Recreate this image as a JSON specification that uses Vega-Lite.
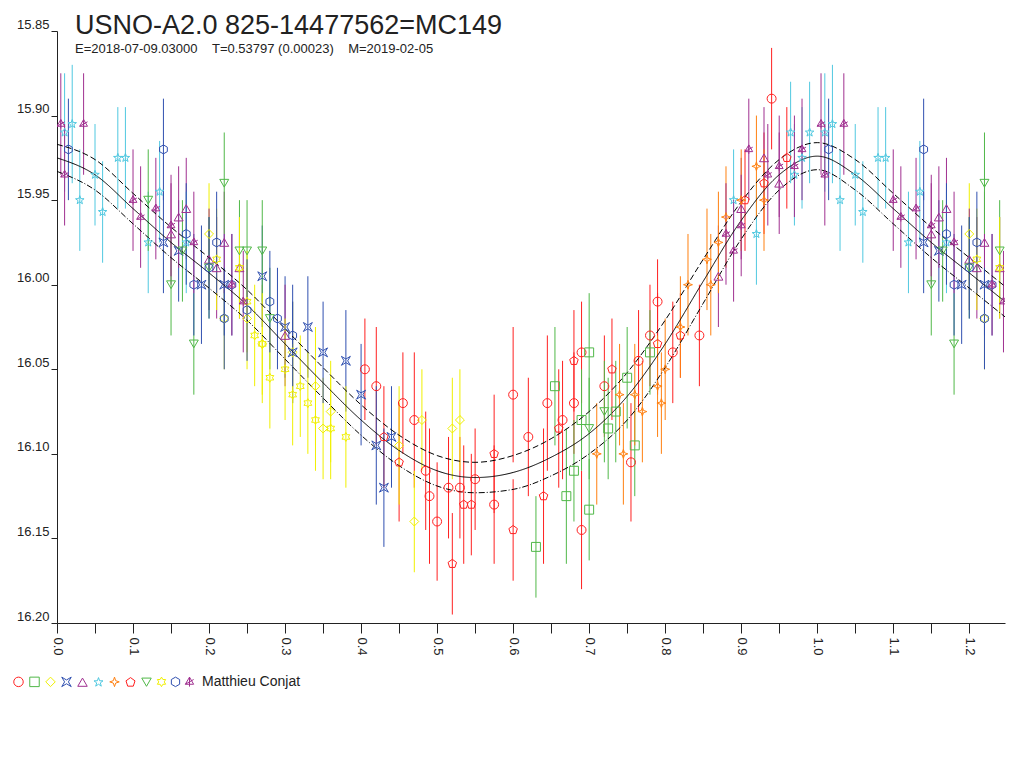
{
  "$schema": "https://vega.github.io/schema/vega-lite/v6.json",
  "autosize": "none",
  "width": 948,
  "height": 592,
  "padding": {"left": 57, "top": 31, "right": 19, "bottom": 145},
  "background": "white",
  "config": {"view": {"stroke": null}, "font": "Liberation Sans"},
  "title": {
    "text": "USNO-A2.0 825-14477562=MC149",
    "subtitle": "E=2018-07-09.03000\u00a0\u00a0\u00a0\u00a0T=0.53797 (0.00023)\u00a0\u00a0\u00a0\u00a0M=2019-02-05",
    "anchor": "start", "frame": "group", "dx": 18, "offset": -39,
    "fontSize": 27, "fontWeight": "normal", "color": "#222",
    "subtitleFontSize": 13, "subtitleColor": "#222", "subtitlePadding": 3
  },
  "datasets": {
    "pts": [
      {"s":"a","p":0.405,"m":16.05,"e":0.03},{"s":"a","p":0.42,"m":16.06,"e":0.035},{"s":"a","p":0.455,"m":16.07,"e":0.03},{"s":"a","p":0.47,"m":16.08,"e":0.04},{"s":"a","p":0.485,"m":16.11,"e":0.035},{"s":"a","p":0.49,"m":16.125,"e":0.04},{"s":"a","p":0.5,"m":16.14,"e":0.035},{"s":"a","p":0.53,"m":16.12,"e":0.03},{"s":"a","p":0.55,"m":16.115,"e":0.03},{"s":"a","p":0.575,"m":16.13,"e":0.035},{"s":"a","p":0.6,"m":16.065,"e":0.04},{"s":"a","p":0.62,"m":16.09,"e":0.035},{"s":"a","p":0.645,"m":16.07,"e":0.04},{"s":"a","p":0.665,"m":16.08,"e":0.035},{"s":"a","p":0.68,"m":16.07,"e":0.03},{"s":"a","p":0.69,"m":16.04,"e":0.03},{"s":"a","p":0.69,"m":16.145,"e":0.035},{"s":"a","p":0.72,"m":16.06,"e":0.03},{"s":"a","p":0.755,"m":16.105,"e":0.035},{"s":"a","p":0.765,"m":16.045,"e":0.03},{"s":"a","p":0.78,"m":16.03,"e":0.03},{"s":"a","p":0.79,"m":16.01,"e":0.025},{"s":"a","p":0.81,"m":16.04,"e":0.03},{"s":"a","p":0.845,"m":16.03,"e":0.03},{"s":"a","p":0.94,"m":15.89,"e":0.03},{"s":"a","p":0.515,"m":16.12,"e":0.03},
      {"s":"h","p":0.43,"m":16.09,"e":0.03},{"s":"h","p":0.45,"m":16.105,"e":0.035},{"s":"h","p":0.52,"m":16.165,"e":0.03},{"s":"h","p":0.535,"m":16.13,"e":0.035},{"s":"h","p":0.545,"m":16.13,"e":0.03},{"s":"h","p":0.575,"m":16.1,"e":0.035},{"s":"h","p":0.6,"m":16.145,"e":0.03},{"s":"h","p":0.64,"m":16.125,"e":0.04},{"s":"h","p":0.66,"m":16.085,"e":0.035},{"s":"h","p":0.68,"m":16.045,"e":0.03},{"s":"h","p":0.73,"m":16.05,"e":0.03},{"s":"h","p":0.79,"m":16.035,"e":0.03},{"s":"h","p":0.82,"m":16.03,"e":0.025},{"s":"h","p":0.905,"m":15.95,"e":0.03},{"s":"h","p":0.93,"m":15.94,"e":0.03},{"s":"h","p":0.96,"m":15.925,"e":0.03},
      {"s":"b","p":0.63,"m":16.155,"e":0.03},{"s":"b","p":0.655,"m":16.06,"e":0.035},{"s":"b","p":0.67,"m":16.125,"e":0.04},{"s":"b","p":0.68,"m":16.11,"e":0.03},{"s":"b","p":0.69,"m":16.08,"e":0.03},{"s":"b","p":0.7,"m":16.04,"e":0.035},{"s":"b","p":0.7,"m":16.133,"e":0.03},{"s":"b","p":0.725,"m":16.085,"e":0.03},{"s":"b","p":0.75,"m":16.055,"e":0.03},{"s":"b","p":0.76,"m":16.095,"e":0.03},{"s":"b","p":0.78,"m":16.04,"e":0.025},{"s":"b","p":0.735,"m":16.075,"e":0.03},
      {"s":"c","p":0.25,"m":16.02,"e":0.03},{"s":"c","p":0.27,"m":16.035,"e":0.035},{"s":"c","p":0.31,"m":16.04,"e":0.03},{"s":"c","p":0.34,"m":16.06,"e":0.035},{"s":"c","p":0.35,"m":16.085,"e":0.03},{"s":"c","p":0.36,"m":16.075,"e":0.03},{"s":"c","p":0.45,"m":16.095,"e":0.035},{"s":"c","p":0.47,"m":16.14,"e":0.03},{"s":"c","p":0.48,"m":16.08,"e":0.03},{"s":"c","p":0.52,"m":16.085,"e":0.03},{"s":"c","p":0.53,"m":16.08,"e":0.03},{"s":"c","p":0.2,"m":15.97,"e":0.03},{"s":"c","p":0.22,"m":16.02,"e":0.03},{"s":"c","p":1.2,"m":15.97,"e":0.03},{"s":"c","p":1.22,"m":16.02,"e":0.03},
      {"s":"d","p":0.14,"m":15.975,"e":0.03},{"s":"d","p":0.16,"m":15.98,"e":0.03},{"s":"d","p":0.19,"m":16.0,"e":0.035},{"s":"d","p":0.22,"m":16.0,"e":0.03},{"s":"d","p":0.27,"m":15.995,"e":0.03},{"s":"d","p":0.3,"m":16.025,"e":0.03},{"s":"d","p":0.31,"m":16.04,"e":0.03},{"s":"d","p":0.33,"m":16.025,"e":0.03},{"s":"d","p":0.35,"m":16.04,"e":0.03},{"s":"d","p":0.38,"m":16.045,"e":0.03},{"s":"d","p":0.4,"m":16.065,"e":0.03},{"s":"d","p":0.42,"m":16.095,"e":0.035},{"s":"d","p":0.43,"m":16.12,"e":0.035},{"s":"d","p":0.44,"m":16.09,"e":0.03},{"s":"d","p":1.14,"m":15.975,"e":0.03},{"s":"d","p":1.16,"m":15.98,"e":0.03},{"s":"d","p":1.19,"m":16.0,"e":0.035},{"s":"d","p":1.22,"m":16.0,"e":0.03},
      {"s":"e","p":0.15,"m":15.97,"e":0.03},{"s":"e","p":0.16,"m":15.96,"e":0.03},{"s":"e","p":0.17,"m":15.955,"e":0.03},{"s":"e","p":0.2,"m":15.985,"e":0.03},{"s":"e","p":0.21,"m":15.99,"e":0.03},{"s":"e","p":0.24,"m":15.99,"e":0.03},{"s":"e","p":0.3,"m":16.03,"e":0.03},{"s":"e","p":0.22,"m":15.975,"e":0.03},{"s":"e","p":0.87,"m":15.995,"e":0.03},{"s":"e","p":0.9,"m":15.955,"e":0.03},{"s":"e","p":0.93,"m":15.925,"e":0.03},{"s":"e","p":0.95,"m":15.94,"e":0.03},{"s":"e","p":1.15,"m":15.97,"e":0.03},{"s":"e","p":1.16,"m":15.96,"e":0.03},{"s":"e","p":1.17,"m":15.955,"e":0.03},{"s":"e","p":1.2,"m":15.985,"e":0.03},{"s":"e","p":1.21,"m":15.99,"e":0.03},{"s":"e","p":1.24,"m":15.99,"e":0.03},{"s":"e","p":1.22,"m":15.975,"e":0.03},
      {"s":"f","p":0.01,"m":15.91,"e":0.035},{"s":"f","p":0.02,"m":15.905,"e":0.035},{"s":"f","p":0.03,"m":15.95,"e":0.03},{"s":"f","p":0.05,"m":15.935,"e":0.03},{"s":"f","p":0.06,"m":15.957,"e":0.03},{"s":"f","p":0.08,"m":15.925,"e":0.03},{"s":"f","p":0.09,"m":15.925,"e":0.03},{"s":"f","p":0.12,"m":15.975,"e":0.03},{"s":"f","p":0.135,"m":15.945,"e":0.03},{"s":"f","p":0.17,"m":15.975,"e":0.03},{"s":"f","p":0.965,"m":15.91,"e":0.03},{"s":"f","p":0.97,"m":15.935,"e":0.03},{"s":"f","p":0.98,"m":15.925,"e":0.03},{"s":"f","p":0.99,"m":15.91,"e":0.03},{"s":"f","p":0.92,"m":15.97,"e":0.03},{"s":"f","p":0.89,"m":15.95,"e":0.03},{"s":"f","p":1.01,"m":15.91,"e":0.035},{"s":"f","p":1.02,"m":15.905,"e":0.035},{"s":"f","p":1.03,"m":15.95,"e":0.03},{"s":"f","p":1.05,"m":15.935,"e":0.03},{"s":"f","p":1.06,"m":15.957,"e":0.03},{"s":"f","p":1.08,"m":15.925,"e":0.03},{"s":"f","p":1.09,"m":15.925,"e":0.03},{"s":"f","p":1.12,"m":15.975,"e":0.03},{"s":"f","p":1.135,"m":15.945,"e":0.03},{"s":"f","p":1.17,"m":15.975,"e":0.03},
      {"s":"g","p":0.74,"m":16.065,"e":0.03},{"s":"g","p":0.76,"m":16.065,"e":0.03},{"s":"g","p":0.77,"m":16.075,"e":0.03},{"s":"g","p":0.795,"m":16.07,"e":0.03},{"s":"g","p":0.8,"m":16.05,"e":0.03},{"s":"g","p":0.82,"m":16.025,"e":0.03},{"s":"g","p":0.83,"m":16.0,"e":0.03},{"s":"g","p":0.855,"m":15.985,"e":0.03},{"s":"g","p":0.86,"m":16.0,"e":0.03},{"s":"g","p":0.87,"m":15.975,"e":0.03},{"s":"g","p":0.88,"m":15.96,"e":0.03},{"s":"g","p":0.9,"m":15.95,"e":0.03},{"s":"g","p":0.92,"m":15.93,"e":0.03},{"s":"g","p":0.93,"m":15.95,"e":0.03},{"s":"g","p":0.71,"m":16.1,"e":0.03},{"s":"g","p":0.745,"m":16.1,"e":0.03},{"s":"g","p":0.79,"m":16.06,"e":0.03},
      {"s":"i","p":0.15,"m":16.0,"e":0.03},{"s":"i","p":0.165,"m":15.98,"e":0.03},{"s":"i","p":0.18,"m":16.035,"e":0.03},{"s":"i","p":0.2,"m":15.99,"e":0.03},{"s":"i","p":0.22,"m":15.94,"e":0.03},{"s":"i","p":0.24,"m":15.98,"e":0.03},{"s":"i","p":0.25,"m":15.98,"e":0.03},{"s":"i","p":0.27,"m":15.98,"e":0.03},{"s":"i","p":0.28,"m":16.02,"e":0.03},{"s":"i","p":0.12,"m":15.95,"e":0.03},{"s":"i","p":0.7,"m":16.085,"e":0.03},{"s":"i","p":0.72,"m":16.075,"e":0.03},{"s":"i","p":1.15,"m":16.0,"e":0.03},{"s":"i","p":1.165,"m":15.98,"e":0.03},{"s":"i","p":1.18,"m":16.035,"e":0.03},{"s":"i","p":1.2,"m":15.99,"e":0.03},{"s":"i","p":1.22,"m":15.94,"e":0.03},{"s":"i","p":1.24,"m":15.98,"e":0.03},
      {"s":"j","p":0.21,"m":15.985,"e":0.03},{"s":"j","p":0.25,"m":16.01,"e":0.03},{"s":"j","p":0.26,"m":16.03,"e":0.03},{"s":"j","p":0.27,"m":16.035,"e":0.03},{"s":"j","p":0.28,"m":16.055,"e":0.03},{"s":"j","p":0.3,"m":16.05,"e":0.03},{"s":"j","p":0.31,"m":16.065,"e":0.03},{"s":"j","p":0.32,"m":16.06,"e":0.03},{"s":"j","p":0.33,"m":16.07,"e":0.03},{"s":"j","p":0.34,"m":16.08,"e":0.03},{"s":"j","p":0.36,"m":16.085,"e":0.03},{"s":"j","p":0.38,"m":16.09,"e":0.03},{"s":"j","p":0.24,"m":15.99,"e":0.03},{"s":"j","p":1.21,"m":15.985,"e":0.03},{"s":"j","p":1.24,"m":15.99,"e":0.03},
      {"s":"k","p":0.015,"m":15.92,"e":0.03},{"s":"k","p":0.14,"m":15.92,"e":0.03},{"s":"k","p":0.17,"m":15.97,"e":0.03},{"s":"k","p":0.18,"m":16.0,"e":0.03},{"s":"k","p":0.2,"m":15.99,"e":0.03},{"s":"k","p":0.21,"m":15.975,"e":0.03},{"s":"k","p":0.22,"m":16.02,"e":0.03},{"s":"k","p":0.23,"m":16.0,"e":0.03},{"s":"k","p":0.25,"m":16.015,"e":0.03},{"s":"k","p":0.28,"m":16.01,"e":0.03},{"s":"k","p":0.29,"m":16.02,"e":0.03},{"s":"k","p":0.31,"m":16.03,"e":0.03},{"s":"k","p":1.015,"m":15.92,"e":0.03},{"s":"k","p":1.14,"m":15.92,"e":0.03},{"s":"k","p":1.17,"m":15.97,"e":0.03},{"s":"k","p":1.18,"m":16.0,"e":0.03},{"s":"k","p":1.2,"m":15.99,"e":0.03},{"s":"k","p":1.21,"m":15.975,"e":0.03},{"s":"k","p":1.22,"m":16.02,"e":0.03},{"s":"k","p":1.23,"m":16.0,"e":0.03},
      {"s":"l","p":0.005,"m":15.905,"e":0.03},{"s":"l","p":0.01,"m":15.935,"e":0.03},{"s":"l","p":0.035,"m":15.905,"e":0.03},{"s":"l","p":0.1,"m":15.95,"e":0.03},{"s":"l","p":0.11,"m":15.96,"e":0.03},{"s":"l","p":0.13,"m":15.955,"e":0.03},{"s":"l","p":0.15,"m":15.965,"e":0.03},{"s":"l","p":0.18,"m":15.975,"e":0.03},{"s":"l","p":0.23,"m":16.0,"e":0.03},{"s":"l","p":0.245,"m":16.01,"e":0.03},{"s":"l","p":0.9,"m":15.965,"e":0.03},{"s":"l","p":0.91,"m":15.92,"e":0.03},{"s":"l","p":0.935,"m":15.935,"e":0.03},{"s":"l","p":0.95,"m":15.93,"e":0.03},{"s":"l","p":0.97,"m":15.93,"e":0.03},{"s":"l","p":0.98,"m":15.92,"e":0.03},{"s":"l","p":0.89,"m":15.98,"e":0.03},{"s":"l","p":0.88,"m":15.97,"e":0.03},{"s":"l","p":1.005,"m":15.905,"e":0.03},{"s":"l","p":1.01,"m":15.935,"e":0.03},{"s":"l","p":1.035,"m":15.905,"e":0.03},{"s":"l","p":1.1,"m":15.95,"e":0.03},{"s":"l","p":1.11,"m":15.96,"e":0.03},{"s":"l","p":1.13,"m":15.955,"e":0.03},{"s":"l","p":1.15,"m":15.965,"e":0.03},{"s":"l","p":1.18,"m":15.975,"e":0.03},{"s":"l","p":1.23,"m":16.0,"e":0.03},{"s":"l","p":1.245,"m":16.01,"e":0.03}
    ],
    "fit": [
      {"c":"mid","p":0,"m":15.925},{"c":"mid","p":0.05,"m":15.935},{"c":"mid","p":0.1,"m":15.955},{"c":"mid","p":0.15,"m":15.975},{"c":"mid","p":0.2,"m":15.993},{"c":"mid","p":0.25,"m":16.012},{"c":"mid","p":0.3,"m":16.035},{"c":"mid","p":0.35,"m":16.058},{"c":"mid","p":0.4,"m":16.08},{"c":"mid","p":0.45,"m":16.098},{"c":"mid","p":0.5,"m":16.11},{"c":"mid","p":0.55,"m":16.114},{"c":"mid","p":0.6,"m":16.111},{"c":"mid","p":0.65,"m":16.102},{"c":"mid","p":0.7,"m":16.088},{"c":"mid","p":0.75,"m":16.066},{"c":"mid","p":0.8,"m":16.035},{"c":"mid","p":0.85,"m":15.998},{"c":"mid","p":0.9,"m":15.962},{"c":"mid","p":0.95,"m":15.935},{"c":"mid","p":1.0,"m":15.924},{"c":"mid","p":1.05,"m":15.935},{"c":"mid","p":1.1,"m":15.955},{"c":"mid","p":1.15,"m":15.975},{"c":"mid","p":1.2,"m":15.993},{"c":"mid","p":1.247,"m":16.01},
      {"c":"hi","p":0,"m":15.917},{"c":"hi","p":0.05,"m":15.926},{"c":"hi","p":0.1,"m":15.946},{"c":"hi","p":0.15,"m":15.966},{"c":"hi","p":0.2,"m":15.984},{"c":"hi","p":0.25,"m":16.003},{"c":"hi","p":0.3,"m":16.026},{"c":"hi","p":0.35,"m":16.049},{"c":"hi","p":0.4,"m":16.071},{"c":"hi","p":0.45,"m":16.089},{"c":"hi","p":0.5,"m":16.101},{"c":"hi","p":0.55,"m":16.105},{"c":"hi","p":0.6,"m":16.101},{"c":"hi","p":0.65,"m":16.091},{"c":"hi","p":0.7,"m":16.075},{"c":"hi","p":0.75,"m":16.052},{"c":"hi","p":0.8,"m":16.021},{"c":"hi","p":0.85,"m":15.985},{"c":"hi","p":0.9,"m":15.951},{"c":"hi","p":0.95,"m":15.926},{"c":"hi","p":1.0,"m":15.916},{"c":"hi","p":1.05,"m":15.926},{"c":"hi","p":1.1,"m":15.946},{"c":"hi","p":1.15,"m":15.966},{"c":"hi","p":1.2,"m":15.984},{"c":"hi","p":1.247,"m":16.001},
      {"c":"lo","p":0,"m":15.933},{"c":"lo","p":0.05,"m":15.944},{"c":"lo","p":0.1,"m":15.964},{"c":"lo","p":0.15,"m":15.984},{"c":"lo","p":0.2,"m":16.002},{"c":"lo","p":0.25,"m":16.021},{"c":"lo","p":0.3,"m":16.044},{"c":"lo","p":0.35,"m":16.067},{"c":"lo","p":0.4,"m":16.089},{"c":"lo","p":0.45,"m":16.107},{"c":"lo","p":0.5,"m":16.119},{"c":"lo","p":0.55,"m":16.123},{"c":"lo","p":0.6,"m":16.121},{"c":"lo","p":0.65,"m":16.113},{"c":"lo","p":0.7,"m":16.1},{"c":"lo","p":0.75,"m":16.08},{"c":"lo","p":0.8,"m":16.049},{"c":"lo","p":0.85,"m":16.011},{"c":"lo","p":0.9,"m":15.973},{"c":"lo","p":0.95,"m":15.944},{"c":"lo","p":1.0,"m":15.932},{"c":"lo","p":1.05,"m":15.944},{"c":"lo","p":1.1,"m":15.964},{"c":"lo","p":1.15,"m":15.984},{"c":"lo","p":1.2,"m":16.002},{"c":"lo","p":1.247,"m":16.019}
    ]
  },
  "encoding": {
    "x": {
      "field": "p", "type": "quantitative",
      "scale": {"domain": [0, 1.247], "nice": false, "zero": false},
      "axis": {
        "title": null, "grid": false, "orient": "bottom",
        "values": [0,0.05,0.1,0.15,0.2,0.25,0.3,0.35,0.4,0.45,0.5,0.55,0.6,0.65,0.7,0.75,0.8,0.85,0.9,0.95,1.0,1.05,1.1,1.15,1.2],
        "labelExpr": "round(datum.value*100)%10==0 ? format(datum.value,'.1f') : ''",
        "labelAngle": 90, "labelAlign": "left", "labelBaseline": "middle", "labelPadding": 4,
        "labelFontSize": 13, "labelColor": "#222", "domainColor": "#222", "tickColor": "#222", "tickSize": 10
      }
    },
    "y": {
      "field": "m", "type": "quantitative",
      "scale": {"domain": [16.2, 15.85], "nice": false, "zero": false},
      "axis": {
        "title": null, "grid": false,
        "values": [15.85,15.9,15.95,16.0,16.05,16.1,16.15,16.2],
        "format": ".2f", "labelBaseline": "bottom", "labelPadding": 2,
        "labelFontSize": 13, "labelColor": "#222", "domainColor": "#222", "tickColor": "#222", "tickSize": 6
      }
    },
    "color": {"field": "s", "type": "nominal",
      "scale": {"domain": ["a","b","c","d","e","f","g","h","i","j","k","l"],
        "range": ["#ff2020","#50b848","#f0f000","#3050b0","#a03090","#50c8e0","#ff8010","#ff2020","#50b848","#f0f000","#3050b0","#a03090"]},
      "legend": {
        "orient": "none", "legendX": -44, "legendY": 645, "direction": "horizontal", "columns": 12,
        "title": "Matthieu Conjat", "titleOrient": "right", "titleFontSize": 14, "titleFontWeight": "normal", "titleColor": "#222",
        "labelExpr": "''", "labelFontSize": 1, "labelOffset": 0, "columnPadding": 1, "symbolSize": 90, "symbolStrokeWidth": 1, "titlePadding": 6, "titleBaseline": "middle"
      }
    }
  },
  "layer": [
    {
      "data": {"name": "pts"},
      "mark": {"type": "errorbar", "clip": true},
      "encoding": {
        "yError": {"field": "e"}
      }
    },
    {
      "data": {"name": "fit"},
      "mark": {"type": "line", "color": "#000", "strokeWidth": 1, "interpolate": "monotone", "clip": true},
      "encoding": {
        "color": {"value": "#000"},
        "detail": {"field": "c"},
        "strokeDash": {"field": "c", "type": "nominal", "legend": null,
          "scale": {"domain": ["mid","hi","lo"], "range": [[1,0],[6,3],[6,2,1,2]]}}
      }
    },
    {
      "data": {"name": "pts"},
      "mark": {"type": "point", "filled": false, "strokeWidth": 1, "size": 80, "opacity": 1, "clip": true},
      "encoding": {
        "shape": {"field": "s", "type": "nominal",
          "scale": {"domain": ["a","b","c","d","e","f","g","h","i","j","k","l"],
            "range": ["circle","square","diamond",
              "M-1,-1L0,-0.4L1,-1L0.4,0L1,1L0,0.4L-1,1L-0.4,0Z",
              "triangle-up",
              "M0,-1L0.24,-0.33L0.95,-0.31L0.38,0.12L0.59,0.81L0,0.4L-0.59,0.81L-0.38,0.12L-0.95,-0.31L-0.24,-0.33Z",
              "M0,-1L0.25,-0.25L1,0L0.25,0.25L0,1L-0.25,0.25L-1,0L-0.25,-0.25Z",
              "M0,-1L0.95,-0.31L0.59,0.81L-0.59,0.81L-0.95,-0.31Z",
              "triangle-down",
              "M0,-1L0.29,-0.5L0.87,-0.5L0.58,0L0.87,0.5L0.29,0.5L0,1L-0.29,0.5L-0.87,0.5L-0.58,0L-0.87,-0.5L-0.29,-0.5Z",
              "M0,-1L0.87,-0.5L0.87,0.5L0,1L-0.87,0.5L-0.87,-0.5Z",
              "M0,-1L0.87,0.5L-0.87,0.5Z M0,-1L0,1 M-0.87,0.5L0.87,-0.5"]}
        }
      }
    }
  ]
}
